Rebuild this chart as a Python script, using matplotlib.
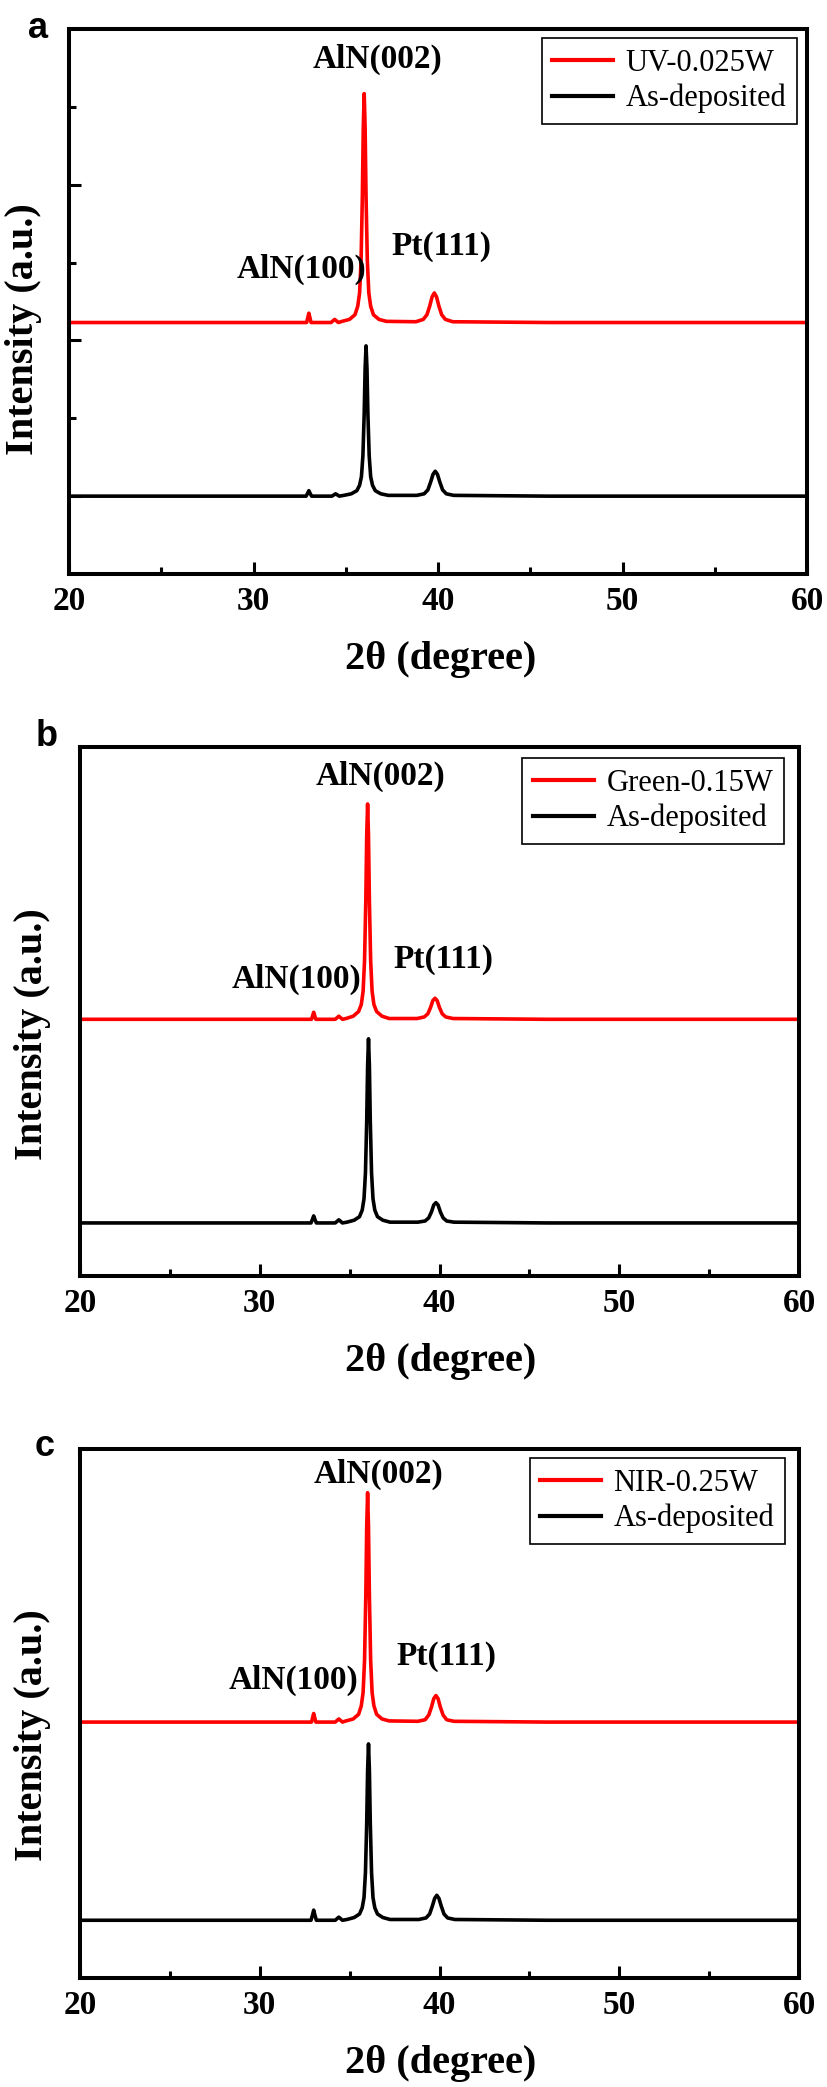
import matplotlib
matplotlib.use("Agg")
import matplotlib.pyplot as plt
from matplotlib.ticker import MultipleLocator

plt.rcParams['font.family'] = ['Liberation Serif', 'DejaVu Serif']

# ---------------- data (2theta in degree, intensity in a.u.) ----------------
panel_letters = ["a", "b", "c"]
red_labels = ["UV-0.025W", "Green-0.15W", "NIR-0.25W"]
black_label = "As-deposited"
peak_names = ["AlN(002)", "AlN(100)", "Pt(111)"]

# Panel a
a_black_x = [20, 32.85, 32.93, 33.0, 33.07, 33.15, 34.25, 34.45, 34.65,
             34.9, 35.3, 35.6, 35.75, 35.85, 35.93, 36.0, 36.05, 36.1, 36.15, 36.2, 36.27, 36.35, 36.45, 36.6, 36.9, 37.3,
             38.85, 39.25, 39.45, 39.6, 39.73, 39.85, 39.97, 40.1, 40.25, 40.45, 40.85, 46.0, 60]
a_black_y = [1.00, 1.00, 1.035, 1.07, 1.035, 1.00, 1.00, 1.03, 1.00,
             1.01, 1.03, 1.07, 1.14, 1.25, 1.52, 2.06, 2.64, 2.93, 2.64, 2.06, 1.52, 1.25, 1.14, 1.07, 1.03, 1.01,
             1.01, 1.03, 1.08, 1.18, 1.28, 1.32, 1.28, 1.18, 1.08, 1.03, 1.01, 1.00, 1.00]
a_red_x = [20, 32.88, 32.94, 33.0, 33.06, 33.12, 34.2, 34.4, 34.6,
           34.8, 35.2, 35.5, 35.65, 35.75, 35.83, 35.9, 35.95, 36.0, 36.05, 36.1, 36.17, 36.25, 36.35, 36.5, 36.8, 37.2,
           38.8, 39.2, 39.4, 39.55, 39.68, 39.8, 39.92, 40.05, 40.2, 40.4, 40.8, 46.0, 60]
a_red_y = [3.23, 3.23, 3.29, 3.35, 3.29, 3.23, 3.23, 3.27, 3.23,
           3.245, 3.27, 3.33, 3.44, 3.61, 4.02, 4.85, 5.73, 6.17, 5.73, 4.85, 4.02, 3.61, 3.44, 3.33, 3.27, 3.245,
           3.24, 3.27, 3.33, 3.44, 3.56, 3.61, 3.56, 3.44, 3.33, 3.27, 3.24, 3.23, 3.23]

# Panel b
b_black_x = [20, 32.85, 32.93, 33.0, 33.07, 33.15, 34.2, 34.4, 34.6,
             34.85, 35.25, 35.55, 35.7, 35.8, 35.88, 35.95, 36.0, 36.05, 36.1, 36.15, 36.22, 36.3, 36.4, 36.55, 36.85, 37.25,
             38.8, 39.2, 39.4, 39.55, 39.68, 39.8, 39.92, 40.05, 40.2, 40.4, 40.8, 46.0, 60]
b_black_y = [0.68, 0.68, 0.725, 0.77, 0.725, 0.68, 0.68, 0.72, 0.68,
             0.69, 0.715, 0.76, 0.845, 0.99, 1.32, 1.98, 2.69, 3.04, 2.69, 1.98, 1.32, 0.99, 0.845, 0.76, 0.715, 0.69,
             0.69, 0.705, 0.745, 0.82, 0.91, 0.94, 0.91, 0.82, 0.745, 0.705, 0.69, 0.68, 0.68]
b_red_x = [20, 32.88, 32.94, 33.0, 33.06, 33.12, 34.2, 34.4, 34.6,
           34.8, 35.2, 35.5, 35.65, 35.75, 35.83, 35.9, 35.95, 36.0, 36.05, 36.1, 36.17, 36.25, 36.35, 36.5, 36.8, 37.2,
           38.75, 39.15, 39.35, 39.5, 39.63, 39.75, 39.87, 40.0, 40.15, 40.35, 40.75, 46.0, 60]
b_red_y = [3.29, 3.29, 3.335, 3.38, 3.335, 3.29, 3.29, 3.33, 3.29,
           3.30, 3.33, 3.39, 3.48, 3.65, 4.04, 4.81, 5.64, 6.05, 5.64, 4.81, 4.04, 3.65, 3.48, 3.39, 3.33, 3.30,
           3.30, 3.32, 3.36, 3.44, 3.53, 3.56, 3.53, 3.44, 3.36, 3.32, 3.30, 3.29, 3.29]

# Panel c
c_black_x = [20, 32.85, 32.93, 33.0, 33.07, 33.15, 34.2, 34.4, 34.6,
             34.85, 35.25, 35.55, 35.7, 35.8, 35.88, 35.95, 36.0, 36.05, 36.1, 36.15, 36.22, 36.3, 36.4, 36.55, 36.85, 37.25,
             38.85, 39.25, 39.45, 39.6, 39.73, 39.85, 39.97, 40.1, 40.25, 40.45, 40.85, 46.0, 60]
c_black_y = [0.74, 0.74, 0.805, 0.87, 0.805, 0.74, 0.74, 0.78, 0.74,
             0.75, 0.775, 0.82, 0.90, 1.03, 1.35, 1.98, 2.66, 3.00, 2.66, 1.98, 1.35, 1.03, 0.90, 0.82, 0.775, 0.75,
             0.75, 0.77, 0.82, 0.92, 1.02, 1.06, 1.02, 0.92, 0.82, 0.77, 0.75, 0.74, 0.74]
c_red_x = [20, 32.88, 32.94, 33.0, 33.06, 33.12, 34.2, 34.4, 34.6,
           34.8, 35.2, 35.5, 35.65, 35.75, 35.83, 35.9, 35.95, 36.0, 36.05, 36.1, 36.17, 36.25, 36.35, 36.5, 36.8, 37.2,
           38.8, 39.2, 39.4, 39.55, 39.68, 39.8, 39.92, 40.05, 40.2, 40.4, 40.8, 46.0, 60]
c_red_y = [3.28, 3.28, 3.335, 3.39, 3.335, 3.28, 3.28, 3.32, 3.28,
           3.295, 3.32, 3.38, 3.49, 3.66, 4.07, 4.90, 5.78, 6.22, 5.78, 4.90, 4.07, 3.66, 3.49, 3.38, 3.32, 3.295,
           3.29, 3.31, 3.37, 3.47, 3.58, 3.62, 3.58, 3.47, 3.37, 3.31, 3.29, 3.28, 3.28]

# annotation anchor positions (2theta, intensity) per panel: AlN(002), AlN(100), Pt(111)
a_label_pos = [(36.7, 6.61), (32.6, 3.91), (40.2, 4.20)]
b_label_pos = [(36.7, 6.40), (32.05, 3.80), (40.2, 4.06)]
c_label_pos = [(36.6, 6.45), (31.9, 3.81), (40.4, 4.12)]

x_ticks = [20, 30, 40, 50, 60]
y_max = [7.0, 6.78, 6.78]

# ---------------- figure ----------------
W, H = 827, 2087
fig = plt.figure(figsize=(W / 100, H / 100), dpi=100)

# axes boxes in pixels: left, top, right, bottom
boxes = [(69, 29, 807, 574), (80, 747, 799, 1276), (80, 1449, 799, 1978)]
legend_boxes = [(797, 38), (784, 758), (785, 1458)]
letter_pos = [(38, 28), (47, 736), (45, 1446)]
ylabel_pos = [(24, 329), (33, 1034), (33, 1735)]

curves = [(a_red_x, a_red_y, a_black_x, a_black_y, a_label_pos),
          (b_red_x, b_red_y, b_black_x, b_black_y, b_label_pos),
          (c_red_x, c_red_y, c_black_x, c_black_y, c_label_pos)]

for i, (l, t, r, b) in enumerate(boxes):
    ax = fig.add_axes([l / W, 1 - b / H, (r - l) / W, (b - t) / H])
    rx, ry, bx, by, lpos = curves[i]
    ax.plot(rx, ry, color='#ff0000', lw=2.6, label=red_labels[i], solid_joinstyle='round')
    ax.plot(bx, by, color='black', lw=2.6, label=black_label, solid_joinstyle='round')
    ax.set_xlim(20, 60)
    ax.set_ylim(0, y_max[i])
    for s in ax.spines.values():
        s.set_linewidth(2.9)
    ax.set_xticks(x_ticks)
    ax.xaxis.set_minor_locator(MultipleLocator(5))
    ax.tick_params(axis='x', which='major', direction='in', length=8.5, width=2.2,
                   labelsize=24, pad=9, top=False)
    ax.tick_params(axis='x', which='minor', direction='in', length=5, width=2.2, top=False)
    for lab in ax.get_xticklabels():
        lab.set_fontweight('bold')
    if i == 0:
        ax.set_yticks([1, 3, 5])
        ax.set_yticks([2, 4, 6], minor=True)
        ax.tick_params(axis='y', which='major', direction='in', length=8.5, width=2.2,
                       labelleft=False, right=False)
        ax.tick_params(axis='y', which='minor', direction='in', length=5, width=2.2,
                       labelleft=False, right=False)
    else:
        ax.set_yticks([])
    # peak labels
    for name, (px, py) in zip(peak_names, lpos):
        ax.text(px, py, name, fontsize=24, fontweight='bold', ha='center', va='center')
    # legend
    lx, ly = legend_boxes[i]
    leg = ax.legend(loc='upper right',
                    bbox_to_anchor=((lx - l) / (r - l), (b - ly) / (b - t)),
                    borderaxespad=0, fontsize=22, frameon=True, fancybox=False,
                    edgecolor='black', framealpha=1, handlelength=2.0,
                    handletextpad=0.4, labelspacing=0.2, borderpad=0.35)
    leg.get_frame().set_linewidth(1.2)
    for line in leg.get_lines():
        line.set_linewidth(3.0)
    # x label
    xl_y = -86 / (b - t)
    ax.text((441 - l) / (r - l), xl_y, "2θ (degree)", transform=ax.transAxes,
            fontsize=29, fontweight='bold', ha='center', va='center')
    # y label
    yx, yy = ylabel_pos[i]
    fig.text(yx / W, 1 - yy / H, "Intensity (a.u.)", rotation=90, fontsize=29,
             fontweight='bold', ha='center', va='center')
    # panel letter
    lx2, ly2 = letter_pos[i]
    fig.text(lx2 / W, 1 - ly2 / H, panel_letters[i], fontsize=26, fontweight='bold',
             family=['Liberation Sans', 'DejaVu Sans'], ha='center', va='center')

fig.savefig("out.png", dpi=100)
